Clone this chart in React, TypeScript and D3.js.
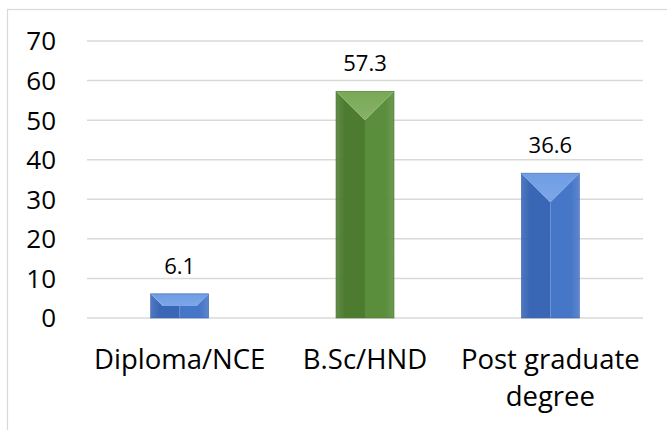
import React from "react";
import * as d3 from "d3";

const categories: string[][] = [["Diploma/NCE"], ["B.Sc/HND"], ["Post graduate", "degree"]];
const values: number[] = [6.1, 57.3, 36.6];
const valueLabels: string[] = ["6.1", "57.3", "36.6"];
const yTicks: number[] = [0, 10, 20, 30, 40, 50, 60, 70];

const palettes = [
  { top: "#6f9de4", left: "#3a66b6", right: "#4676c8", edge: "#3a64b0" },
  { top: "#79a956", left: "#4d7c30", right: "#5a8d3c", edge: "#4a7730" },
  { top: "#6f9de4", left: "#3a66b6", right: "#4676c8", edge: "#3a64b0" },
];

const W = 667;
const H = 430;
const FONT = "'Open Sans', 'Noto Sans', sans-serif";

export default function App() {
  const x = d3.scaleBand<number>().domain(d3.range(categories.length)).range([87, 643]).paddingInner(0).paddingOuter(0);
  const y = d3.scaleLinear().domain([0, 70]).range([318, 41]);
  const barW = 58;

  return (
    <svg width={W} height={H} style={{ position: "absolute", left: 0, top: 0, background: "#fff" }}>
      <defs>
        {palettes.map((p, i) => (
          <React.Fragment key={i}>
            <linearGradient id={`lg${i}`} x1="0" x2="1" y1="0" y2="0">
              <stop offset="0" stopColor={p.left} stopOpacity={0.88} />
              <stop offset="0.3" stopColor={p.left} />
              <stop offset="1" stopColor={p.left} />
            </linearGradient>
            <linearGradient id={`rg${i}`} x1="0" x2="1" y1="0" y2="0">
              <stop offset="0" stopColor={p.right} />
              <stop offset="0.7" stopColor={p.right} />
              <stop offset="1" stopColor={p.right} stopOpacity={0.88} />
            </linearGradient>
            <linearGradient id={`tg${i}`} x1="0" x2="0" y1="0" y2="1">
              <stop offset="0" stopColor={p.top} />
              <stop offset="1" stopColor={p.top} stopOpacity={0.9} />
            </linearGradient>
          </React.Fragment>
        ))}
      </defs>
      <rect x={7.5} y={9.5} width={W + 10} height={H + 10} fill="none" stroke="#d9d9d9" strokeWidth={1.2} />
      {yTicks.map((t) => (
        <g key={t}>
          <line x1={87} x2={643} y1={y(t)} y2={y(t)} stroke="#d9d9d9" strokeWidth={1.5} />
          <text x={56} y={y(t)} dy="0.36em" textAnchor="end" fontFamily={FONT} fontSize={26} fill="#000">
            {t}
          </text>
        </g>
      ))}
      {values.map((v, i) => {
        const cx = (x(i) as number) + x.bandwidth() / 2;
        const x0 = cx - barW / 2;
        const x1 = cx + barW / 2;
        const y0 = y(v);
        const y1 = y(0);
        const h = y1 - y0;
        const d = Math.min(barW / 2, h / 2);
        const ix0 = x0 + d;
        const ix1 = x1 - d;
        const iy0 = y0 + d;
        const pts = (a: number[][]) => a.map((q) => q.join(",")).join(" ");
        return (
          <g key={i}>
            <polygon points={pts([[x0, y0], [ix0, iy0], [cx, iy0], [cx, y1], [x0, y1]])} fill={`url(#lg${i})`} />
            <polygon points={pts([[x1, y0], [ix1, iy0], [cx, iy0], [cx, y1], [x1, y1]])} fill={`url(#rg${i})`} />
            <polygon points={pts([[x0, y0], [x1, y0], [ix1, iy0], [ix0, iy0]])} fill={`url(#tg${i})`} />
            <rect x={x0} y={y0} width={barW} height={h} fill="none" stroke={palettes[i].edge} strokeWidth={0.6} />
            <text x={cx} y={y0 - 20} textAnchor="middle" fontFamily={FONT} fontSize={22} fill="#000">
              {valueLabels[i]}
            </text>
            {categories[i].map((line, k) => (
              <text key={k} x={cx} y={369 + k * 37} textAnchor="middle" fontFamily={FONT} fontSize={27.5} fill="#000">
                {line}
              </text>
            ))}
          </g>
        );
      })}
    </svg>
  );
}
